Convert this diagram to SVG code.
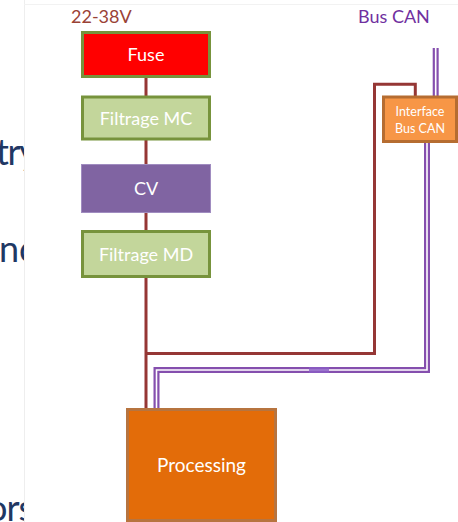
<svg xmlns="http://www.w3.org/2000/svg" width="458" height="522" viewBox="0 0 458 522">
  <defs>
    <clipPath id="leftStrip">
      <rect x="0" y="0" width="24" height="522"/>
    </clipPath>
    <style>
      .lbl { font-family: Lato, "Open Sans", "Liberation Sans", sans-serif; text-anchor: middle; fill: #FFFFFF; }
      .title { font-family: Lato, "Open Sans", "Liberation Sans", sans-serif; font-size: 18px; }
      .slide { font-family: Lato, "Open Sans", "Liberation Sans", sans-serif; font-size: 36px; fill: #1F3864; }
      .power { fill: none; stroke: #953735; stroke-width: 3; }
      .busOuter { fill: none; stroke: #7030A0; stroke-width: 6; stroke-opacity: 0.85; }
      .busInner { fill: none; stroke: #FFFFFF; stroke-width: 1.6; }
      .green { fill: #C3D69B; stroke: #77933C; stroke-width: 3; }
    </style>
  </defs>

  <rect x="0" y="0" width="458" height="522" fill="#FFFFFF"/>

  <!-- slide text running under the left edge of the drawing panel -->
  <g clip-path="url(#leftStrip)">
    <text class="slide" x="-4" y="165" letter-spacing="-1.5">try</text>
    <text class="slide" x="-1" y="262">nc</text>
    <text class="slide" x="-13" y="521" letter-spacing="-1">ors</text>
  </g>
  <line x1="24.5" y1="0" x2="24.5" y2="522" stroke="#EEEEEE" stroke-width="1"/>
  <line x1="24" y1="4.5" x2="458" y2="4.5" stroke="#F2F2F2" stroke-width="1"/>

  <!-- headings -->
  <text class="title" x="71" y="23" fill="#9A4236">22-38V</text>
  <text class="title" x="358" y="23" fill="#7030A0">Bus CAN</text>

  <!-- connectors -->
  <g id="connectors">
    <line class="power" x1="146" y1="77" x2="146" y2="409"/>
    <polyline class="power" points="146,353.5 374.5,353.5 374.5,84.3 415.3,84.3 415.3,97"/>
    <line class="busOuter" x1="435.7" y1="48" x2="435.7" y2="97"/>
    <line class="busInner" x1="435.7" y1="48" x2="435.7" y2="97"/>
    <polyline class="busOuter" points="156.5,409 156.5,370 427,370 427,141"/>
    <polyline class="busInner" points="156.5,409 156.5,370 427,370 427,141"/>
    <line x1="309" y1="370" x2="329" y2="370" stroke="#8A5CC4" stroke-width="6" stroke-opacity="0.8"/>
  </g>

  <g id="fuse">
    <rect x="82.5" y="32.5" width="127" height="44" fill="#FF0000" stroke="#77933C" stroke-width="3"/>
    <text class="lbl" x="146" y="61" font-size="18">Fuse</text>
  </g>

  <g id="filtrage-mc">
    <rect class="green" x="82.5" y="97" width="127" height="42"/>
    <text class="lbl" x="146" y="125" font-size="18" fill="#F2F6EA">Filtrage MC</text>
  </g>

  <g id="cv">
    <rect x="81.5" y="164.5" width="129" height="48" fill="#8064A2" stroke="#A08CC0" stroke-width="1"/>
    <text class="lbl" x="146" y="195" font-size="18">CV</text>
  </g>

  <g id="filtrage-md">
    <rect class="green" x="82.5" y="231.5" width="127" height="45"/>
    <text class="lbl" x="146" y="261" font-size="18" fill="#F2F6EA">Filtrage MD</text>
  </g>

  <g id="interface-bus-can">
    <rect x="383.5" y="97" width="73" height="44.5" fill="#F79646" stroke="#B66D31" stroke-width="3"/>
    <text class="lbl" x="420" y="116" font-size="12.5">Interface</text>
    <text class="lbl" x="420" y="133" font-size="12.5">Bus CAN</text>
  </g>

  <g id="processing">
    <rect x="127.5" y="409.5" width="148" height="111" fill="#E36C09" stroke="#B7743F" stroke-width="3"/>
    <text class="lbl" x="201.5" y="472" font-size="19">Processing</text>
  </g>
</svg>
